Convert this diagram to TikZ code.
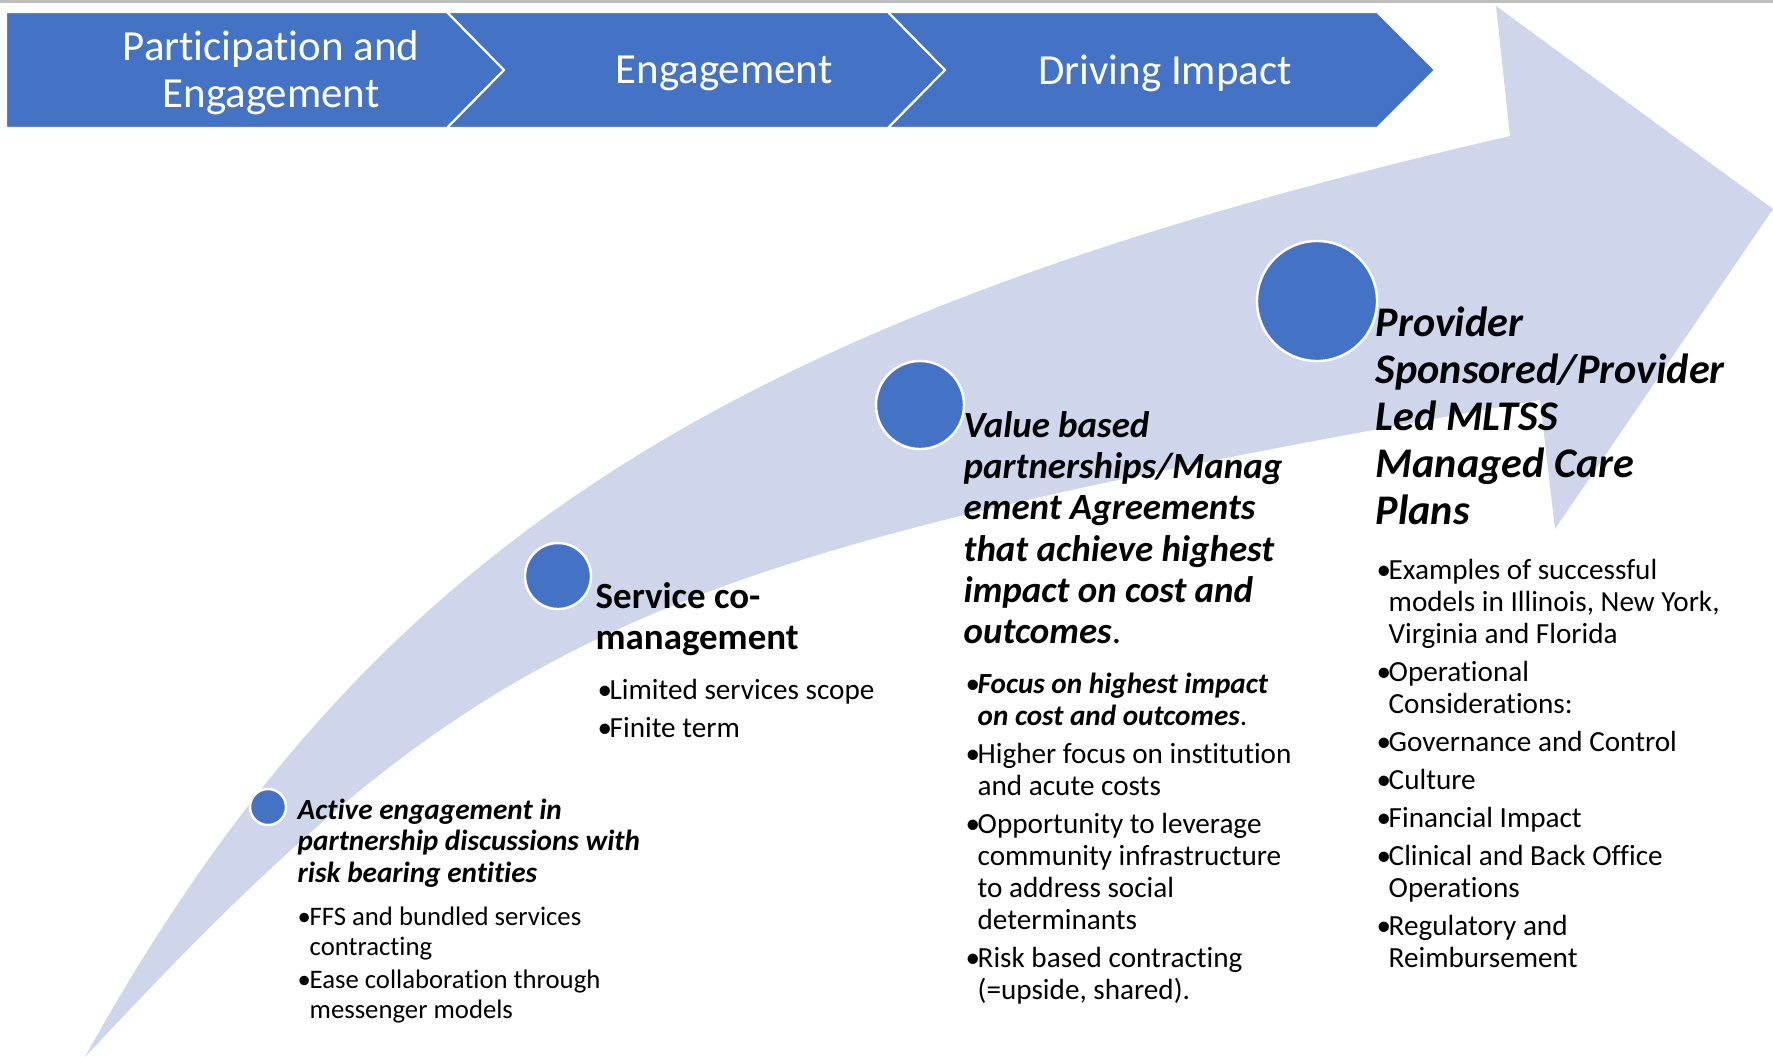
\documentclass[tikz,border=0pt]{standalone}
\usepackage{fontspec}
\setmainfont{Carlito}[Ligatures=NoCommon]
\definecolor{stageblue}{HTML}{4472C4}
\definecolor{bandfill}{HTML}{CFD5EA}
\definecolor{rulegrey}{HTML}{BFBFBF}
\newcommand{\bul}{\makebox[3.4pt][l]{\textbullet}}
\newcommand{\ind}{\hspace*{3.4pt}}
\tikzset{
  stage/.style={fill=stageblue, draw=white, line width=0.6pt},
  stagetext/.style={text=white, align=center, inner sep=0pt, font=\fontsize{12.2}{13.5}\selectfont},
  dot/.style={circle, fill=stageblue, draw=white, line width=0.7pt, inner sep=0pt},
  head/.style={anchor=north west, inner sep=0pt, align=left, font=\bfseries\itshape\fontsize{10.5}{11.7}\selectfont},
  items/.style={anchor=north west, inner sep=0pt, align=left, font=\fontsize{8.3}{9.1}\selectfont},
}
\begin{document}
\begin{tikzpicture}[x=0.01cm, y=-0.01cm]
\useasboundingbox (0,0) rectangle (1773,1057);
\fill [rulegrey] (0,0) rectangle (1773,3);
\fill [bandfill] (85,1057) .. controls (367,548) and (723,318) .. (1510,136)
  -- (1496,6) -- (1773,209) -- (1555,529) -- (1540,400)
  .. controls (633,560) and (487,626) .. (85,1057) -- cycle;
\draw [stage] (6,12) -- (447,12) -- (504,70) -- (447,128) -- (6,128) -- cycle;
\draw [stage] (447,12) -- (888,12) -- (945,70) -- (888,128) -- (447,128) -- (504,70) -- cycle;
\draw [stage] (888,12) -- (1377,12) -- (1435,70) -- (1377,128) -- (888,128) -- (945,70) -- cycle;
\node [stagetext] (stage1) at (271,73) {Participation and\\Engagement};
\node [stagetext] (stage2) at (724,73) {Engagement};
\node [stagetext] (stage3) at (1165,73) {Driving Impact};
\node [dot, minimum size=0.36cm] (dot1) at (268,807) {};
\node [dot, minimum size=0.66cm] (dot2) at (558,576) {};
\node [dot, minimum size=0.88cm] (dot3) at (920,405) {};
\node [dot, minimum size=1.2cm] (dot4) at (1317,301) {};
\node [head, font=\bfseries\itshape\fontsize{8.3}{9.0}\selectfont] (head1) at (297,798)
  {Active engagement in\\partnership discussions with\\risk bearing entities};
\node [items, font=\fontsize{7.6}{8.55}\selectfont] (list1) at (297,906)
  {\bul FFS and bundled services\\ \ind contracting\\[0.9pt]
   \bul Ease collaboration through\\ \ind messenger models};
\node [head, font=\bfseries\fontsize{10.5}{11.7}\selectfont] (head2) at (595,582)
  {Service co-\\management};
\node [items] (list2) at (597,679)
  {\bul Limited services scope\\[1.7pt] \bul Finite term};
\node [head] (head3) at (963,411)
  {Value based\\partnerships/Manag\\ement Agreements\\that achieve highest\\impact on cost and\\outcomes{\normalfont .}};
\node [items] (list3) at (965,672)
  {\bul\textbf{\textit{Focus on highest impact}}\\ \ind\textbf{\textit{on cost and outcomes}}.\\[1.7pt]
   \bul Higher focus on institution\\ \ind and acute costs\\[1.7pt]
   \bul Opportunity to leverage\\ \ind community infrastructure\\ \ind to address social\\ \ind determinants\\[1.7pt]
   \bul Risk based contracting\\ \ind (=upside, shared).};
\node [head, font=\bfseries\itshape\fontsize{12}{13.4}\selectfont] (head4) at (1375,306)
  {Provider\\Sponsored/Provider\\Led MLTSS\\Managed Care\\Plans};
\node [items] (list4) at (1376,559)
  {\bul Examples of successful\\ \ind models in Illinois, New York,\\ \ind Virginia and Florida\\[1.7pt]
   \bul Operational\\ \ind Considerations:\\[1.7pt]
   \bul Governance and Control\\[1.7pt]
   \bul Culture\\[1.7pt]
   \bul Financial Impact\\[1.7pt]
   \bul Clinical and Back Office\\ \ind Operations\\[1.7pt]
   \bul Regulatory and\\ \ind Reimbursement};
\end{tikzpicture}
\end{document}
